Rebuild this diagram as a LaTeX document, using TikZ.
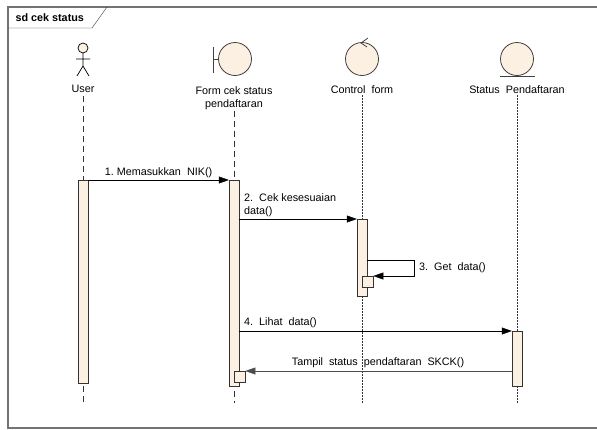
\documentclass[tikz,border=0pt]{standalone}
\usepackage{fontspec}
\setmainfont{Liberation Sans}
\usetikzlibrary{arrows.meta,positioning}
\definecolor{cream}{HTML}{FBF0E1}

\begin{document}
\begin{tikzpicture}[x=1pt,y=-1pt,font=\fontsize{10.8}{13}\selectfont,
        obj/.style={circle,draw=black!75,fill=cream,minimum size=33pt,inner sep=0pt,line width=0.8pt},
        act/.style={draw=black!80,fill=cream,minimum width=10pt,inner sep=0pt,anchor=north},
        nest/.style={draw=black!80,fill=cream,minimum size=11pt,inner sep=0pt,anchor=north west},
        msg/.style={-{Triangle[length=10pt,width=7pt]}},
        lifea/.style={black!80,dash pattern=on 6pt off 4pt},
        lifeb/.style={black!80,dash pattern=on 2pt off 1pt},
        lbl/.style={inner sep=1pt}]

  \useasboundingbox (0,0) rectangle (597,429);

  % frame
  \draw[black!55,line width=1.3pt] (600,7) -- (8,7) -- (8,428) -- (600,428);
  \draw[black!80] (8,28) -- (92,28) -- (107,7);
  \node[font=\bfseries\fontsize{10.8}{13}\selectfont,anchor=west] (title) at (12,18) {sd cek status};

  % User actor
  \draw[black,fill=cream,line width=0.7pt] (83,48) circle (5pt);
  \draw[black,line width=0.7pt] (83,53) -- (83,66) (76,59) -- (90,59)
        (77,76) -- (83,66) -- (89,76);
  \node (user) at (83,89) {User};

  % boundary
  \node[obj] (form) at (235,59) {};
  \draw[black!75,line width=1pt] (213,47) -- (213,73) (213,59) -- (form.west);
  \node[align=center,lbl] (formtxt) at (234,98) {Form cek status\\pendaftaran};

  % control
  \node[obj] (ctrl) at (362,59) {};
  \draw[black!75,line width=0.8pt] (368,38) -- (361,43) -- (367,47);
  \node[lbl] (ctrltxt) at (362,90) {Control\ \ form};

  % entity
  \node[obj] (stat) at (517,59) {};
  \draw[black!75,line width=1pt] (500,76) -- (535,76);
  \node[lbl] (stattxt) at (517,90) {Status\ \ Pendaftaran};

  % lifelines
  \coordinate (uend) at (83,403);
  \coordinate (fend) at (234,403);
  \coordinate (cend) at (362,403);
  \coordinate (send) at (517,403);
  \draw[lifea] (user.south) -- (uend);
  \draw[lifea] (formtxt.south) -- (fend);
  \draw[lifeb] (ctrltxt.south) -- (cend);
  \draw[lifeb] (stattxt.south) -- (send);

  % activations
  \node[act,minimum height=203pt] (au) at (83,180) {};
  \node[act,minimum height=206pt] (af) at (234,180) {};
  \node[act,minimum height=77pt] (ac) at (362,219) {};
  \node[act,minimum height=55pt] (as) at (517,331) {};
  \node[nest] (cn) at (362,276) {};
  \node[nest] (fn) at (234,371) {};

  % messages
  \draw[msg] (au.north east) -- (af.north west)
        node[midway,above=1pt,lbl] {1.\ Memasukkan\ \ NIK()};
  \draw[msg] (af.east |- ac.north west) -- (ac.north west);
  \node[align=left,anchor=south west,lbl] at (243,218) {2.\ \ Cek kesesuaian\\data()};
  \draw[msg] (ac.east |- 0,260) -- (414,260) |- (cn.north east);
  \node[anchor=west,lbl] at (418,268) {3.\ \ Get\ \ data()};
  \draw[msg] (af.east |- as.north west) -- (as.north west);
  \node[anchor=south west,lbl] at (243,329) {4.\ \ Lihat\ \ data()};
  \draw[msg,black!70] (as.west |- fn.north east) -- (fn.north east);
  \node[anchor=south,lbl] at (378,369) {Tampil\ \ status\ \ pendaftaran\ \ SKCK()};

\end{tikzpicture}
\end{document}
